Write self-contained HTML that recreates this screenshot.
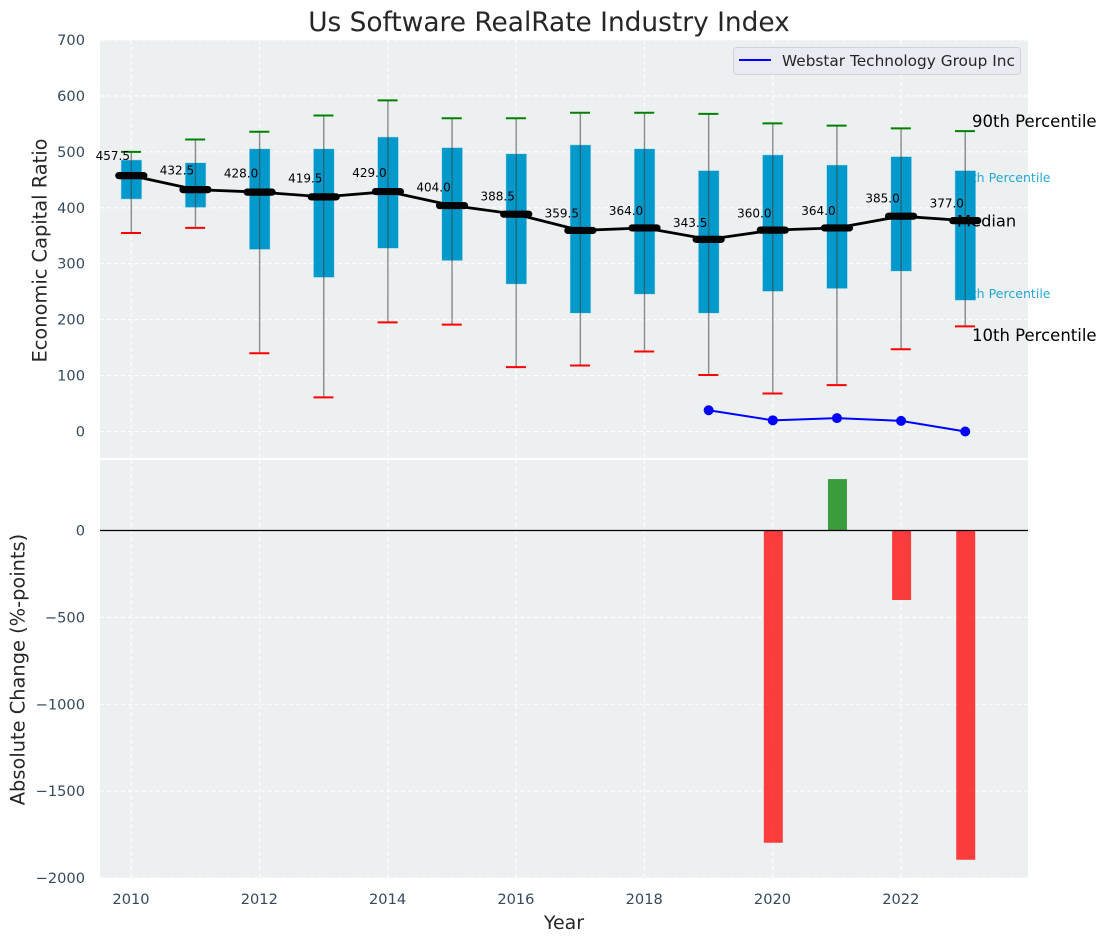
<!DOCTYPE html>
<html lang="en">
<head>
<meta charset="utf-8">
<title>Us Software RealRate Industry Index</title>
<style>
html,body{margin:0;padding:0;background:#fff;width:1107px;height:942px;overflow:hidden}
svg{display:block;font-family:"DejaVu Sans","Liberation Sans",sans-serif}
</style>
</head>
<body>
<svg id="chart" xmlns="http://www.w3.org/2000/svg" width="1107" height="942" viewBox="0 0 1107 942">
  <rect x="100" y="40" width="928" height="418" fill="#ecf0f1"/>
  <rect x="100" y="460" width="928" height="418" fill="#ecf0f1"/>
  <g id="grid"></g>
  <g id="pctText">
    <text x="955.8" y="182" font-size="12.55" fill="#0099cc" fill-opacity="0.85">75th Percentile</text>
    <text x="955.8" y="298" font-size="12.55" fill="#0099cc" fill-opacity="0.85">25th Percentile</text>
  </g>
  <g id="boxes"></g>
  <text x="957" y="226.5" font-size="16.3" fill="#000">Median</text>
  <g id="medians"></g>
  <g id="company"></g>
  <g id="bars"></g>
  <line x1="100" x2="1028" y1="530.5" y2="530.5" stroke="#000" stroke-width="1.3"/>
  <g id="ticks"></g>
  <text x="972" y="127" font-size="16.5" fill="#000">90th Percentile</text>
  <text x="972" y="341" font-size="16.5" fill="#000">10th Percentile</text>
  <text x="549" y="31" font-size="26.4" text-anchor="middle" fill="#262626">Us Software RealRate Industry Index</text>
  <text transform="translate(46.5,250.5) rotate(-90)" font-size="19.4" text-anchor="middle" fill="#262626">Economic Capital Ratio</text>
  <text transform="translate(24.5,669.5) rotate(-90)" font-size="19.4" text-anchor="middle" fill="#262626">Absolute Change (%-points)</text>
  <text x="564" y="929" font-size="19" text-anchor="middle" fill="#262626">Year</text>
  <g>
    <rect x="733.5" y="47.5" width="287" height="27" rx="3" fill="#eaeaf2" stroke="#cfd2d6" stroke-width="1"/>
    <line x1="739" x2="771" y1="60" y2="60" stroke="#0000ff" stroke-width="2"/>
    <text x="782" y="66" font-size="15.33" fill="#262626">Webstar Technology Group Inc</text>
  </g>
</svg>
<script>
const years = [2010,2011,2012,2013,2014,2015,2016,2017,2018,2019,2020,2021,2022,2023];
const p90 = [500,522,536,565,592,560,560,570,570,568,551,547,542,537];
const p75 = [485,480,505,505,526,507,496,512,505,466,494,476,491,466];
const medianValues = [457.5,432.5,428,419.5,429,404,388.5,359.5,364,343.5,360,364,385,377];
const p25 = [416,401,326,276,328,306,264,212,246,212,251,256,287,235];
const p10 = [355,364,140,61,195,191,115,118,143,101,68,83,147,188];
const companyYears = [2019,2020,2021,2022,2023];
const companyValues = [38,20,24,19,0];
const changeYears = [2020,2021,2022,2023];
const changeValues = [-1797,296,-400,-1895];
const xTickValues = [2010,2012,2014,2016,2018,2020,2022];
const topTickValues = [0,100,200,300,400,500,600,700];
const bottomTickValues = [0,-500,-1000,-1500,-2000];

const NS = 'http://www.w3.org/2000/svg';
const xAxis = v => 131.3 + (v - 2010) * 64.15;
const yTop = v => 431.5 - v * 0.5593;
const yBottom = v => 530.5 - v * 0.17375;
function mk(tag, attrs, parent) {
  const el = document.createElementNS(NS, tag);
  for (const k in attrs) el.setAttribute(k, attrs[k]);
  document.getElementById(parent).appendChild(el);
  return el;
}
const gridStyle = {stroke:'#ffffff','stroke-width':1.1,'stroke-dasharray':'4 3'};

xTickValues.forEach(t => {
  const a = mk('line', Object.assign({x1:xAxis(t),x2:xAxis(t),y1:40,y2:458}, gridStyle), 'grid');
  
  
  const b = mk('line', Object.assign({x1:xAxis(t),x2:xAxis(t),y1:460,y2:878}, gridStyle), 'grid');
  
  
  const label = mk('text', {x:xAxis(t)-0.3,y:904,'font-size':14.6,'text-anchor':'middle',fill:'#34495e'}, 'ticks');
  
  
  label.textContent = t;
});
topTickValues.forEach(t => {
  const g = mk('line', Object.assign({x1:100,x2:1028,y1:yTop(t),y2:yTop(t)}, gridStyle), 'grid');
  
  
  const label = mk('text', {x:85,y:yTop(t)+5,'font-size':14.6,'text-anchor':'end',fill:'#34495e'}, 'ticks');
  
  
  label.textContent = t;
});
bottomTickValues.forEach(t => {
  const g = mk('line', Object.assign({x1:100,x2:1028,y1:yBottom(t),y2:yBottom(t)}, gridStyle), 'grid');
  
  
  const label = mk('text', {x:85,y:yBottom(t)+5,'font-size':14.6,'text-anchor':'end',fill:'#34495e'}, 'ticks');
  
  
  label.textContent = String(t).replace('-', '\u2212');
});

years.forEach((yr, i) => {
  const x = xAxis(yr);
  const box = mk('rect', {x:x-10,y:yTop(p75[i]),width:20.2,height:yTop(p25[i])-yTop(p75[i]),fill:'#0099cc',stroke:'#0099cc','stroke-opacity':0.25,'stroke-width':1}, 'boxes');
  
  
  const whisker = mk('line', {x1:x,x2:x,y1:yTop(p90[i]),y2:yTop(p10[i]),stroke:'#444444','stroke-opacity':0.6,'stroke-width':1.4}, 'boxes');
  
  
  const capHigh = mk('line', {x1:x-10.3,x2:x+9.7,y1:yTop(p90[i]),y2:yTop(p90[i]),stroke:'#008000','stroke-width':2}, 'boxes');
  
  
  const capLow = mk('line', {x1:x-10.3,x2:x+9.7,y1:yTop(p10[i]),y2:yTop(p10[i]),stroke:'#ff0000','stroke-width':2}, 'boxes');
  
  
});

const medianLine = mk('polyline', {points:years.map((yr,i)=>xAxis(yr)+','+yTop(medianValues[i])).join(' '),fill:'none',stroke:'#000','stroke-width':2.8}, 'medians');


years.forEach((yr, i) => {
  const x = xAxis(yr), y = yTop(medianValues[i]);
  const marker = mk('line', {x1:x-12.5,x2:x+12.5,y1:y,y2:y,stroke:'#000','stroke-width':7.2,'stroke-linecap':'round'}, 'medians');
  
  
  const label = mk('text', {x:x-18.5,y:yTop(medianValues[i]*1.05)-2.8,'font-size':12,'text-anchor':'middle',fill:'#000'}, 'medians');
  
  
  label.textContent = medianValues[i].toFixed(1);
});

const companyLine = mk('polyline', {points:companyYears.map((yr,i)=>xAxis(yr)+','+yTop(companyValues[i])).join(' '),fill:'none',stroke:'#0000ff','stroke-width':2}, 'company');


companyYears.forEach((yr, i) => {
  const dot = mk('circle', {cx:xAxis(yr),cy:yTop(companyValues[i]),r:5,fill:'#0000ff'}, 'company');
  
  
});

changeYears.forEach((yr, i) => {
  const v = changeValues[i];
  const top = Math.min(yBottom(v), yBottom(0));
  const bar = mk('rect', {x:xAxis(yr)-9,y:top,width:19,height:Math.abs(yBottom(v)-yBottom(0)),fill:v>=0?'#008000':'#ff0000','fill-opacity':0.75}, 'bars');
  
  
});
</script>
</body>
</html>
